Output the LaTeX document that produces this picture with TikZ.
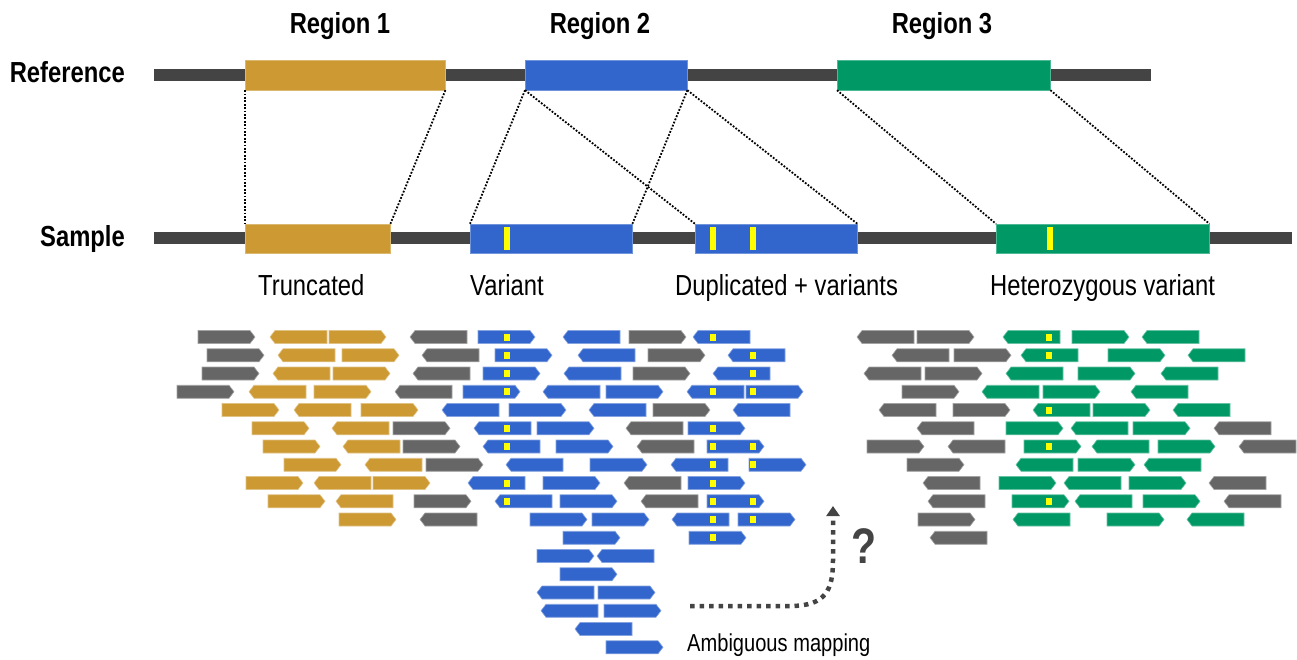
\documentclass[tikz,border=0pt]{standalone}
\usepackage{fontspec}
\setmainfont[FakeStretch=0.82]{Liberation Sans}
\usetikzlibrary{positioning, arrows.meta}
\definecolor{goldreg}{HTML}{CC9933}
\definecolor{bluereg}{HTML}{3366CC}
\definecolor{greenreg}{HTML}{009966}
\definecolor{readgray}{HTML}{666666}
\definecolor{trackgray}{HTML}{444444}
\definecolor{varyellow}{HTML}{FFFF00}

\begin{document}
\begin{tikzpicture}[x=1pt, y=-1pt]
    % Define the styles for tracks, boxes, reads and labels
    \tikzset{
        track/.style={line width=12pt, draw=trackgray},
        regbox/.style={rectangle, minimum height=30pt, inner sep=0pt, anchor=west},
        smpbox/.style={rectangle, minimum height=29pt, inner sep=0pt, anchor=west},
        mapline/.style={line width=1.8pt, dash pattern=on 1.8pt off 1.6pt, black},
        hdr/.style={font=\bfseries\fontsize{29}{32}\selectfont, inner sep=0pt, anchor=base},
        lbl/.style={font=\fontsize{29}{32}\selectfont, inner sep=0pt, anchor=base west},
        goldread/.style={fill=goldreg, draw=goldreg!60!white, line width=0.6pt},
        blueread/.style={fill=bluereg, draw=bluereg!60!white, line width=0.6pt},
        greenread/.style={fill=greenreg, draw=greenreg!60!white, line width=0.6pt},
        grayread/.style={fill=readgray, draw=readgray!60!white, line width=0.6pt},
        readr/.pic={\path[pic actions] (0,-6.5) -- (52,-6.5) -- (57,0) -- (52,6.5) -- (0,6.5) -- cycle;},
        readl/.pic={\path[pic actions] (0,0) -- (5,-6.5) -- (57,-6.5) -- (57,6.5) -- (5,6.5) -- cycle;},
        ambarrow/.style={line width=4.5pt, trackgray, dash pattern=on 4.5pt off 5pt, -{Triangle[width=13pt,length=10pt]}}
    }
    \useasboundingbox (0,0) rectangle (1297,659);

    % Tracks
    \draw[track] (154,75) -- (1151,75);
    \draw[track] (154,238) -- (1292,238);

    % Region boxes on the reference
    \node[regbox, fill=goldreg, draw=goldreg!70!white, minimum width=200pt] (refbox1) at (245,75) {};
    \node[regbox, fill=bluereg, draw=bluereg!70!white, minimum width=162pt] (refbox2) at (525,75) {};
    \node[regbox, fill=greenreg, draw=greenreg!70!white, minimum width=213pt] (refbox3) at (837,75) {};

    % Region boxes on the sample
    \node[smpbox, fill=goldreg, draw=goldreg!70!white, minimum width=145pt] (smpbox1) at (245,238.5) {};
    \node[smpbox, fill=bluereg, draw=bluereg!70!white, minimum width=162pt] (smpbox2a) at (470,238.5) {};
    \node[smpbox, fill=bluereg, draw=bluereg!70!white, minimum width=162pt] (smpbox2b) at (695,238.5) {};
    \node[smpbox, fill=greenreg, draw=greenreg!70!white, minimum width=213pt] (smpbox3) at (996,238.5) {};
    \foreach \x in {507, 713, 753, 1050}
        \fill[varyellow] ({\x-3},227) rectangle ++(6,23);

    % Mapping lines
    \draw[mapline] (refbox1.south west) -- (smpbox1.north west);
    \draw[mapline] (refbox1.south east) -- (smpbox1.north east);
    \draw[mapline] (refbox2.south west) -- (smpbox2a.north west);
    \draw[mapline] (refbox2.south east) -- (smpbox2a.north east);
    \draw[mapline] (refbox2.south west) -- (smpbox2b.north west);
    \draw[mapline] (refbox2.south east) -- (smpbox2b.north east);
    \draw[mapline] (refbox3.south west) -- (smpbox3.north west);
    \draw[mapline] (refbox3.south east) -- (smpbox3.north east);

    % Labels
    \node[hdr] (reg1) at (340,33) {Region 1};
    \node[hdr] (reg2) at (600,33) {Region 2};
    \node[hdr] (reg3) at (942,33) {Region 3};
    \node[hdr, anchor=base east] (reflbl) at (125,82) {Reference};
    \node[hdr, anchor=base east] (smplbl) at (125,246) {Sample};
    \node[lbl] (trunc) at (258,295) {Truncated};
    \node[lbl] (varnt) at (470,295) {Variant};
    \node[lbl] (dupl) at (675,295) {Duplicated + variants};
    \node[lbl] (hetero) at (990,295) {Heterozygous variant};

    % Reads (x / row)
    \foreach \x/\r in {329/1, 342/2, 333/3, 314/4, 222/5, 361/5, 252/6, 263/7, 284/8, 246/9, 373/9, 268/10, 339/11}
        \pic[goldread] at (\x,{337+18.25*(\r-1)}) {readr};
    \foreach \x/\r in {270/1, 278/2, 273/3, 249/4, 294/5, 332/6, 343/7, 365/8, 314/9, 336/10}
        \pic[goldread] at (\x,{337+18.25*(\r-1)}) {readl};

    \foreach \x/\r in {198/1, 629/1, 917/1, 207/2, 648/2, 954/2, 202/3, 633/3, 925/3, 177/4, 902/4,
                       653/5, 953/5, 393/6, 403/7, 867/7, 426/8, 907/8, 414/10, 918/11}
        \pic[grayread] at (\x,{337+18.25*(\r-1)}) {readr};
    \foreach \x/\r in {410/1, 857/1, 422/2, 892/2, 413/3, 864/3, 395/4, 879/5, 626/6, 917/6, 1214/6,
                       637/7, 948/7, 1239/7, 624/9, 923/9, 1209/9, 641/10, 928/10, 1224/10, 420/11, 930/12}
        \pic[grayread] at (\x,{337+18.25*(\r-1)}) {readl};

    \foreach \x/\r in {478/1, 495/2, 483/3, 463/4, 606/4, 746/4, 509/5, 537/6, 688/6, 556/7, 707/7,
                       590/8, 749/8, 543/9, 688/9, 560/10, 707/10, 530/11, 592/11, 738/11, 563/12, 689/12,
                       537/13, 560/14, 598/15, 604/16, 606/18}
        \pic[blueread] at (\x,{337+18.25*(\r-1)}) {readr};
    \foreach \x/\r in {563/1, 693/1, 578/2, 728/2, 564/3, 713/3, 543/4, 687/4, 442/5, 589/5, 733/5,
                       474/6, 483/7, 506/8, 671/8, 468/9, 495/10, 672/11, 597/13, 537/15, 541/16, 575/17}
        \pic[blueread] at (\x,{337+18.25*(\r-1)}) {readl};

    \foreach \x/\r in {1072/1, 1108/2, 1078/3, 1043/4, 1093/5, 1006/6, 1133/6, 1024/7, 1158/7,
                       1078/8, 999/9, 1129/9, 1012/10, 1143/10, 1107/11}
        \pic[greenread] at (\x,{337+18.25*(\r-1)}) {readr};
    \foreach \x/\r in {1003/1, 1142/1, 1021/2, 1188/2, 1006/3, 1161/3, 982/4, 1131/4, 1033/5, 1173/5,
                       1071/6, 1092/7, 1016/8, 1144/8, 1064/9, 1075/10, 1013/11, 1187/11}
        \pic[greenread] at (\x,{337+18.25*(\r-1)}) {readl};

    % Variant marks on reads
    \foreach \x/\r in {507/1, 713/1, 507/2, 753/2, 507/3, 753/3, 507/4, 713/4, 753/4, 507/6, 713/6,
                       507/7, 713/7, 753/7, 713/8, 753/8, 507/9, 713/9, 507/10, 713/10, 753/10,
                       713/11, 753/11, 713/12, 1049/1, 1049/2, 1049/5, 1049/7, 1049/10}
        \fill[varyellow] ({\x-3},{337+18.25*(\r-1)-3.5}) rectangle ++(6,7);

    % Ambiguous mapping
    \coordinate (ambstart) at (690,606);
    \coordinate (ambend) at (833,506);
    \draw[ambarrow] (ambstart) -- (790,606) .. controls (826,606) and (833,590) .. (833,560) -- (ambend);
    \node[font=\bfseries\fontsize{50}{50}\selectfont, text=trackgray, inner sep=0pt] (qmark) at (864,546) {?};
    \node[font=\fontsize{24.5}{28}\selectfont, inner sep=0pt, anchor=base west] (amblbl) at (687,651) {Ambiguous mapping};
\end{tikzpicture}
\end{document}
